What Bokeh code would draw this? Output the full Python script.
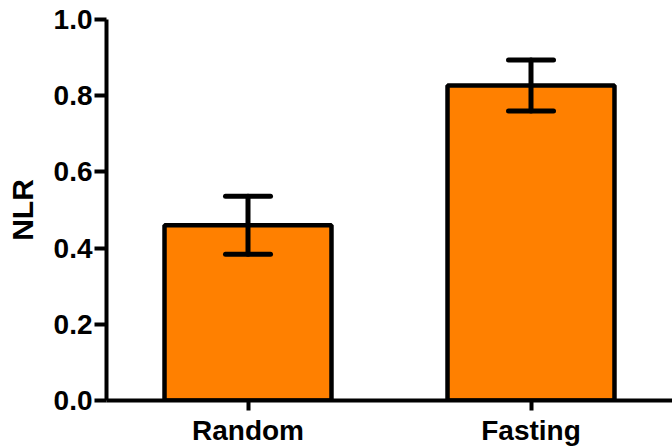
from bokeh.plotting import figure
from bokeh.models import ColumnDataSource, Whisker, TeeHead, FixedTicker, PrintfTickFormatter, FactorRange
from bokeh.embed import file_html
from bokeh.resources import INLINE

categories = ["Random", "Fasting"]
means = [0.46, 0.827]
sems = [0.076, 0.067]
y_ticks = [0.0, 0.2, 0.4, 0.6, 0.8, 1.0]

src = ColumnDataSource(data=dict(
    cat=categories,
    mean=means,
    upper=[m + s for m, s in zip(means, sems)],
    lower=[m - s for m, s in zip(means, sems)],
))

p = figure(x_range=FactorRange(*categories, range_padding=0.0), y_range=(0, 1.0),
           width=672, height=448, output_backend="svg", toolbar_location=None,
           min_border_left=106, min_border_right=0, min_border_top=19, min_border_bottom=48)

p.vbar(x="cat", top="mean", width=0.59, source=src, fill_color="#FF8000",
       line_color="black", line_width=4.5)

w = Whisker(base="cat", upper="upper", lower="lower", source=src, level="overlay",
            line_width=5, line_color="black", line_cap="round",
            upper_head=TeeHead(size=45, line_width=5, line_color="black", line_cap="round"),
            lower_head=TeeHead(size=45, line_width=5, line_color="black", line_cap="round"))
p.add_layout(w)

FONT = "Liberation Sans"
p.outline_line_color = None
p.xgrid.grid_line_color = None
p.ygrid.grid_line_color = None

for ax in (p.xaxis[0], p.yaxis[0]):
    ax.axis_line_width = 4
    ax.major_tick_line_width = 4
    ax.major_tick_in = 0
    ax.minor_tick_line_color = None
    ax.major_label_text_font = FONT
    ax.major_label_text_font_style = "bold"
    ax.major_label_text_font_size = "28px"
    ax.major_label_text_color = "black"
    ax.axis_line_color = "black"
    ax.major_tick_line_color = "black"

p.yaxis.ticker = FixedTicker(ticks=y_ticks)
p.yaxis.formatter = PrintfTickFormatter(format="%.1f")
p.yaxis.major_tick_out = 12
p.yaxis.major_label_standoff = 2
p.yaxis.axis_label = "NLR"
p.yaxis.axis_label_text_font = FONT
p.yaxis.axis_label_text_font_style = "bold"
p.yaxis.axis_label_text_font_size = "30px"
p.yaxis.axis_label_text_color = "black"
p.yaxis.axis_label_standoff = 12

p.xaxis.major_tick_out = 10
p.xaxis.major_label_standoff = 4

open("out.html", "w").write(file_html(p, INLINE))
